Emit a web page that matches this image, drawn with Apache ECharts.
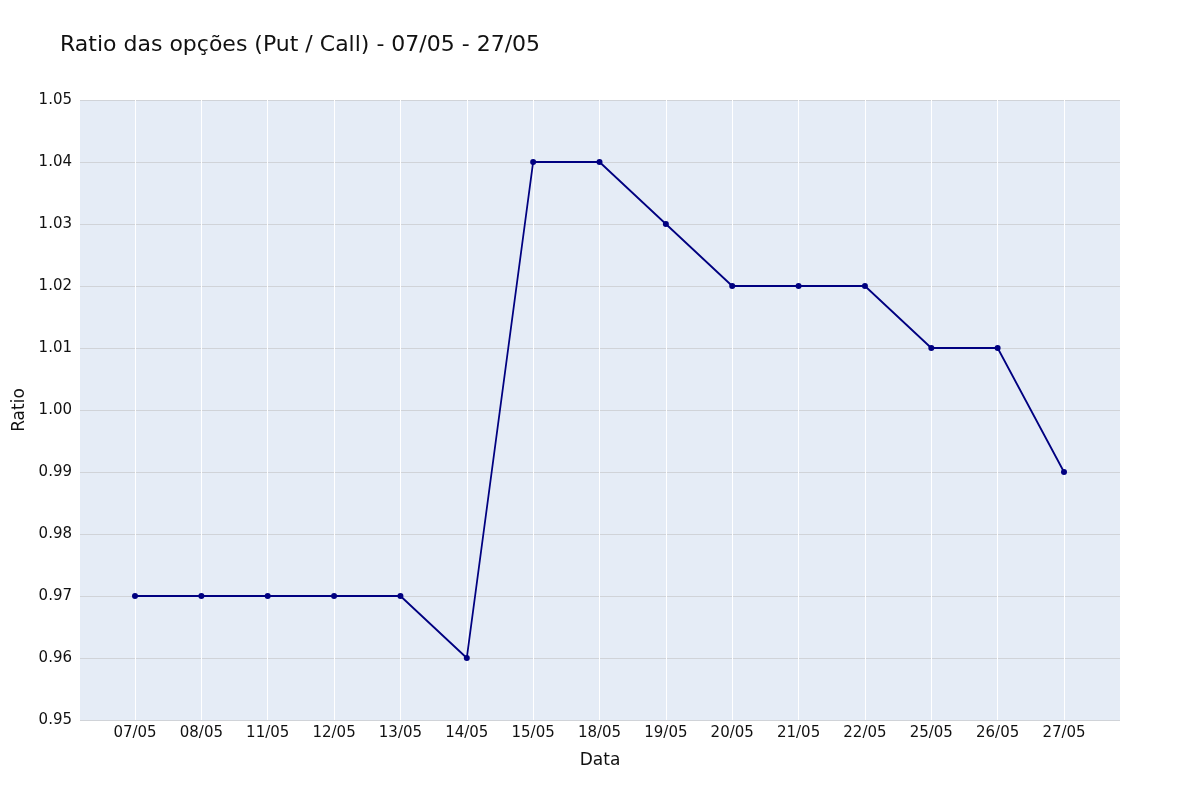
<!DOCTYPE html>
<html><head><meta charset="utf-8">
<script src="https://cdn.jsdelivr.net/npm/echarts@6/dist/echarts.min.js"></script>
<style>html,body{margin:0;padding:0;background:#fff}#c{width:1200px;height:800px}</style>
</head><body><div id="c"></div>
<script>
const categories = ['07/05','08/05','11/05','12/05','13/05','14/05','15/05','18/05','19/05','20/05','21/05','22/05','25/05','26/05','27/05'];
const ratioValues = [0.97,0.97,0.97,0.97,0.97,0.96,1.04,1.04,1.03,1.02,1.02,1.02,1.01,1.01,0.99];
const titleText = 'Ratio das opções (Put / Call) - 07/05 - 27/05';
const xName = 'Data';
const yName = 'Ratio';

const font = 'DejaVu Sans';
const txt = '#111111';
const chart = echarts.init(document.getElementById('c'), null, {renderer:'canvas'});
chart.setOption({
  backgroundColor:'#fff',
  animation:false,
  title:{text:titleText,left:55,top:29,textStyle:{fontFamily:font,fontSize:22,fontWeight:'normal',color:txt}},
  grid:[
    {left:135,right:136,top:100,bottom:80,show:false},
    {left:80,right:80,top:100,bottom:80,show:true,backgroundColor:'#E5ECF6',borderWidth:0}
  ],
  xAxis:[
    {type:'category',gridIndex:0,data:categories,boundaryGap:false,
     axisLine:{show:false},axisTick:{show:false},
     axisLabel:{fontFamily:font,fontSize:15,color:txt,margin:6,interval:0},
     splitLine:{show:true,lineStyle:{color:'#ffffff',width:1}}},
    {type:'value',gridIndex:1,show:false,min:0,max:1}
  ],
  yAxis:[
    {type:'value',gridIndex:0,min:0.95,max:1.05,interval:0.01,show:false,splitLine:{show:false}},
    {type:'value',gridIndex:1,min:0.95,max:1.05,interval:0.01,
     axisLine:{show:false},axisTick:{show:false},
     axisLabel:{fontFamily:font,fontSize:15,color:txt,margin:8,formatter:v=>v.toFixed(2)},
     splitLine:{show:true,lineStyle:{color:'#d0d3d8',width:1}},
     name:yName,nameLocation:'middle',nameGap:52,nameRotate:90,
     nameTextStyle:{fontFamily:font,fontSize:17,color:txt}}
  ],
  graphic:[{type:'text',left:'center',top:752,style:{text:xName,font:'17px "DejaVu Sans"',fill:txt}}],
  series:[{
    type:'line',xAxisIndex:0,yAxisIndex:0,data:ratioValues,
    symbol:'circle',symbolSize:6,
    lineStyle:{color:'#000080',width:1.8},
    itemStyle:{color:'#000080'},z:5
  }]
});
</script></body></html>
